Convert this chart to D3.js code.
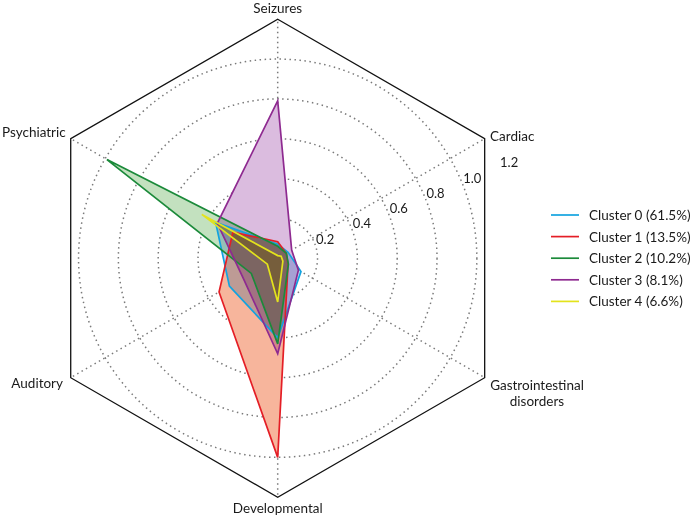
<!DOCTYPE html>
<html><head><meta charset="utf-8">
<script src="https://cdn.jsdelivr.net/npm/d3@7"></script>
<style>
html,body{margin:0;padding:0;background:#fff;}
svg{display:block;font-family:Lato,"Liberation Sans",sans-serif;}
</style></head>
<body>
<svg id="chart" width="690" height="517"></svg>
<script>
const axes = ["Seizures","Cardiac","Gastrointestinal disorders","Developmental","Auditory","Psychiatric"];
const clusterNames = ["Cluster 0 (61.5%)","Cluster 1 (13.5%)","Cluster 2 (10.2%)","Cluster 3 (8.1%)","Cluster 4 (6.6%)"];
const cluster0 = [0.07, 0.06, 0.135, 0.40, 0.28, 0.36];
const cluster1 = [0.083, 0.05, 0.06, 1.0, 0.34, 0.26];
const cluster2 = [0.06, 0.05, 0.062, 0.43, 0.153, 0.99];
const cluster3 = [0.79, 0.081, 0.12, 0.48, 0.20, 0.35];
const cluster4 = [0.013, 0.02, 0.03, 0.22, 0.06, 0.44];
const tickValues = [0.2, 0.4, 0.6, 0.8, 1.0, 1.2];
const lineColors = ["#12a3e0","#e41e26","#1b8a3a","#8e2a90","#e3e31c"];
const fillColors = ["#c3daf3","#f7b59c","#c3e1bf","#dbbcdf","#f3ee9c"];

const series = [cluster0, cluster1, cluster2, cluster3, cluster4];
const cx = 277.7, cy = 258.2;
const rMax = 1.2;
const r = d3.scaleLinear().domain([0, rMax]).range([0, 239]);
const svg = d3.select("#chart");
const g = svg.append("g").attr("transform", `translate(${cx},${cy})`);
const ang = i => i * Math.PI / 3; // 0 = up, clockwise
const pt = (i, v) => [Math.sin(ang(i)) * r(v), -Math.cos(ang(i)) * r(v)];

// grid circles
g.selectAll("circle.grid").data(tickValues.filter(v => v < rMax)).join("circle")
  .attr("r", d => r(d)).attr("fill", "none")
  .attr("stroke", "#7a7a7a").attr("stroke-width", 1.5).attr("stroke-dasharray", "1.5,3.5");
// spokes
g.selectAll("line.spoke").data(axes).join("line")
  .attr("x1", 0).attr("y1", 0)
  .attr("x2", (d, i) => pt(i, rMax)[0]).attr("y2", (d, i) => pt(i, rMax)[1])
  .attr("stroke", "#7a7a7a").attr("stroke-width", 1.5).attr("stroke-dasharray", "1.5,3.5");

const radial = d3.lineRadial().angle((d, i) => ang(i)).radius(d => r(d)).curve(d3.curveLinearClosed);

// fills (multiply)
const fills = g.append("g").style("isolation", "isolate");
fills.selectAll("path").data(series).join("path")
  .attr("d", d => radial(d)).attr("fill", (d, i) => fillColors[i])
  .style("mix-blend-mode", "multiply");
// strokes
g.append("g").selectAll("path").data(series).join("path")
  .attr("d", d => radial(d)).attr("fill", "none")
  .attr("stroke", (d, i) => lineColors[i]).attr("stroke-width", 1.7)
  .attr("stroke-linejoin", "miter");

// hexagon frame
g.append("path").attr("d", radial(axes.map(() => rMax)))
  .attr("fill", "none").attr("stroke", "#111").attr("stroke-width", 1.3);

// tick labels
const ta = -22.5 * Math.PI / 180;
g.selectAll("text.tick").data(tickValues).join("text")
  .attr("x", d => Math.cos(ta) * (r(d) + 11.5))
  .attr("y", d => Math.sin(ta) * (r(d) + 11.5))
  .attr("text-anchor", "middle").attr("dominant-baseline", "central")
  .attr("font-size", 13).attr("fill", "#1a1a1a")
  .text(d => d3.format(".1f")(d));

// axis labels
const labelPos = [
  {x: cx, y: 13, a: "middle"},
  {x: 490, y: 141, a: "start"},
  {x: 537, y: 390, a: "middle"},
  {x: cx, y: 513, a: "middle"},
  {x: 63, y: 388, a: "end"},
  {x: 2, y: 137, a: "start"}
];
axes.forEach((name, i) => {
  const p = labelPos[i];
  const t = svg.append("text").attr("x", p.x).attr("y", p.y)
    .attr("text-anchor", p.a).attr("font-size", 13.5).attr("fill", "#1a1a1a");
  if (name === "Gastrointestinal disorders") {
    t.append("tspan").attr("x", p.x).text("Gastrointestinal");
    t.append("tspan").attr("x", p.x).attr("dy", 16).text("disorders");
  } else t.text(name);
});

// legend
const lg = svg.append("g").attr("transform", "translate(551,215)");
clusterNames.forEach((n, i) => {
  const y = i * 21.6;
  lg.append("line").attr("x1", 0).attr("x2", 28).attr("y1", y).attr("y2", y)
    .attr("stroke", lineColors[i]).attr("stroke-width", 1.7);
  lg.append("text").attr("x", 38).attr("y", y).attr("dominant-baseline", "central")
    .attr("font-size", 13.5).attr("fill", "#1a1a1a").text(n);
});
</script>
</body></html>
